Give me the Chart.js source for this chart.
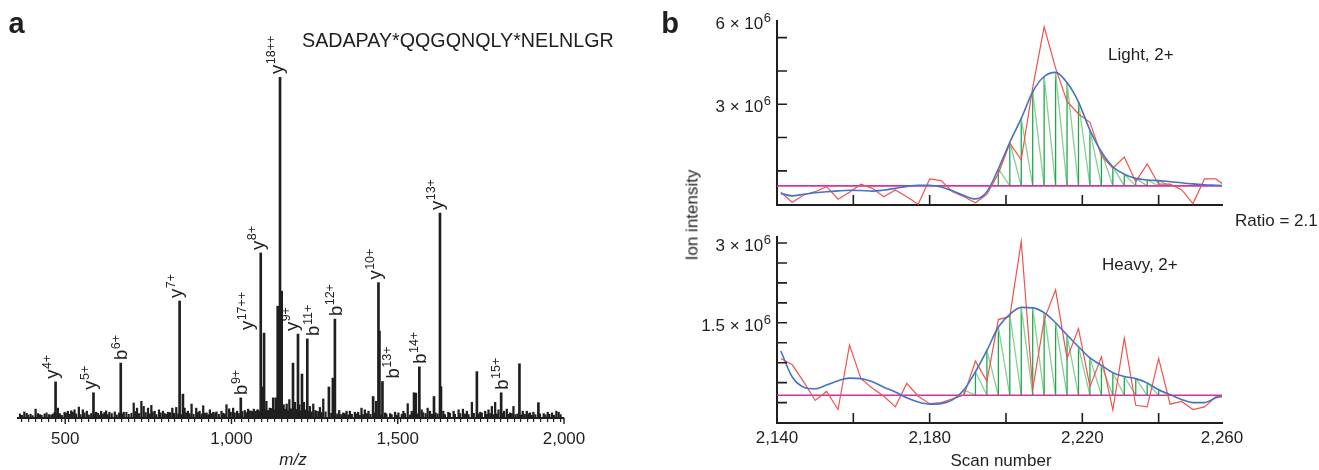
<!DOCTYPE html>
<html><head><meta charset="utf-8">
<script src="https://cdn.jsdelivr.net/npm/chart.js@4.4.1/dist/chart.umd.min.js"></script>
<style>
html,body{margin:0;padding:0;background:#fff;}
#wrap{position:relative;width:1319px;height:470px;overflow:hidden;font-family:"Liberation Sans",Arial,Helvetica,sans-serif;color:#1f1f1f;}
canvas{position:absolute;}
.t{position:absolute;white-space:nowrap;line-height:1;}
.c{transform:translate(-50%,-50%);}
.l{transform:translate(0,-50%);}
</style></head><body>
<div id="wrap">
<canvas id="ca" width="640" height="470" style="left:0;top:0"></canvas>
<canvas id="cb1" width="679" height="230" style="left:640px;top:0"></canvas>
<canvas id="cb2" width="679" height="240" style="left:640px;top:230px"></canvas>
<div class="t c" style="left:16.5px;top:22.5px;font-size:29px;font-weight:bold">a</div>
<div class="t c" style="left:670px;top:23px;font-size:29px;font-weight:bold">b</div>
<div class="t l" style="left:302px;top:40.5px;font-size:19.7px">SADAPAY*QQGQNQLY*NELNLGR</div>
<div class="t c" style="left:293px;top:459px;font-size:17px;font-style:italic">m/z</div>
<div class="t c" style="left:692px;top:215px;font-size:17px;transform:translate(-50%,-50%) rotate(-90deg)">Ion intensity</div>
<div class="t c" style="left:1001px;top:460px;font-size:17px">Scan number</div>
<div class="t l" style="left:1235px;top:220px;font-size:17px">Ratio = 2.1</div>
<div class="t l" style="left:1108px;top:53.5px;font-size:17px">Light, 2+</div>
<div class="t l" style="left:1102px;top:263.5px;font-size:17px">Heavy, 2+</div>
</div>
<script>
const FONT = '"Liberation Sans", Arial, Helvetica, sans-serif';
const INK = '#1f1f1f';

// ---------- Panel a: MS/MS spectrum (relative intensity, %) ----------
const peakMz  = [471, 585, 667, 844, 854, 1028, 1088, 1095, 1098, 1133, 1139, 1146, 1151, 1185, 1200, 1212, 1228, 1293, 1305, 1311, 1426, 1442, 1445, 1454, 1549, 1565, 1609, 1627, 1630, 1738, 1811, 1866, 1923];
const peakInt = [10.6, 7.4, 16.1, 34.3, 7.0, 5.9, 48.4, 9.1, 24.9, 5.9, 32.8, 100, 37.2, 16.1, 24.6, 12.9, 23.2, 9.1, 11.7, 29.0, 6.3, 39.7, 25.5, 10.7, 7.4, 15.0, 6.3, 60.1, 9.2, 13.6, 7.4, 15.9, 4.5];
const noiseMz  = [377, 411, 438, 451, 478, 498, 508, 518, 528, 541, 553, 565, 593, 608, 623, 633, 649, 676, 706, 716, 729, 736, 749, 759, 769, 782, 794, 809, 822, 834, 859, 869, 880, 894, 904, 915, 925, 935, 945, 955, 970, 985, 993, 1005, 1017, 1040, 1050, 1060, 1067, 1080, 1105, 1115, 1125, 1157, 1166, 1174, 1191, 1204, 1218, 1236, 1246, 1256, 1266, 1276, 1324, 1336, 1346, 1356, 1371, 1381, 1391, 1401, 1412, 1435, 1462, 1477, 1492, 1502, 1517, 1530, 1542, 1555, 1572, 1590, 1597, 1637, 1652, 1668, 1683, 1696, 1708, 1723, 1748, 1763, 1773, 1783, 1793, 1803, 1820, 1828, 1838, 1848, 1876, 1888, 1898, 1908, 1939, 1951, 1964, 1977, 1984];
const noiseInt = [1.8, 2.6, 1.2, 1.0, 2.9, 1.7, 2.0, 2.1, 2.4, 3.2, 2.4, 2.0, 1.7, 2.0, 2.1, 1.7, 1.8, 1.7, 4.4, 2.9, 4.9, 3.4, 2.9, 3.7, 2.0, 2.4, 2.0, 1.7, 2.9, 3.1, 2.9, 2.0, 4.1, 2.9, 2.0, 3.6, 1.5, 2.4, 1.7, 1.8, 2.0, 3.9, 2.7, 2.9, 2.0, 2.2, 2.6, 2.0, 2.6, 2.4, 4.9, 2.9, 5.9, 3.9, 4.1, 5.4, 4.6, 3.9, 4.6, 3.4, 4.1, 2.0, 3.1, 5.6, 2.2, 1.5, 2.0, 2.0, 1.7, 1.7, 2.9, 2.4, 2.0, 4.9, 1.5, 1.3, 1.7, 1.5, 2.0, 4.2, 2.0, 7.3, 2.4, 2.9, 2.0, 2.0, 1.7, 2.0, 2.4, 2.6, 2.0, 4.6, 1.7, 2.0, 2.4, 3.4, 4.6, 2.4, 2.0, 2.6, 1.5, 3.4, 2.0, 2.0, 1.5, 1.7, 1.3, 1.7, 1.5, 2.0, 1.7];
const grassMz  = [364, 370, 384, 389, 396, 402, 418, 424, 429, 444, 458, 463, 468, 476, 484, 490, 502, 513, 523, 533, 546, 558, 571, 578, 588, 599, 603, 614, 618, 628, 640, 655, 662, 671, 684, 691, 699, 711, 722, 742, 754, 763, 774, 787, 799, 804, 815, 827, 840, 849, 864, 874, 886, 899, 910, 920, 930, 940, 951, 962, 975, 980, 998, 1010, 1022, 1033, 1045, 1055, 1064, 1072, 1077, 1083, 1102, 1110, 1119, 1130, 1161, 1170, 1179, 1188, 1195, 1208, 1222, 1232, 1241, 1252, 1262, 1271, 1283, 1300, 1318, 1330, 1341, 1351, 1362, 1376, 1386, 1396, 1407, 1418, 1430, 1450, 1466, 1482, 1497, 1512, 1522, 1537, 1546, 1560, 1577, 1584, 1603, 1614, 1620, 1642, 1657, 1672, 1688, 1702, 1713, 1729, 1743, 1753, 1768, 1778, 1788, 1798, 1815, 1833, 1843, 1854, 1860, 1871, 1882, 1893, 1903, 1914, 1928, 1944, 1956, 1970, 1990];
const grassInt = [1.2, 0.8, 1.4, 0.9, 1.1, 0.7, 1.3, 1.0, 0.8, 1.5, 0.9, 1.2, 1.6, 1.0, 1.3, 0.8, 1.4, 1.1, 1.7, 1.2, 1.0, 1.5, 0.9, 1.3, 1.1, 1.4, 0.8, 1.2, 1.6, 1.0, 1.3, 0.9, 1.5, 1.2, 1.7, 1.1, 1.4, 1.9, 1.3, 1.6, 1.2, 1.8, 1.0, 1.5, 1.3, 1.1, 1.6, 1.4, 1.2, 1.0, 1.5, 1.3, 1.1, 1.6, 1.2, 1.4, 1.0, 1.3, 1.5, 1.1, 1.4, 1.2, 1.7, 1.5, 1.3, 1.9, 1.6, 2.1, 1.8, 2.0, 2.3, 1.9, 2.5, 2.2, 2.8, 2.4, 2.6, 2.2, 2.7, 2.3, 2.5, 2.1, 2.4, 2.0, 1.8, 2.2, 1.9, 1.6, 1.8, 1.4, 1.2, 1.0, 1.3, 0.9, 1.1, 1.2, 0.8, 1.0, 1.3, 1.1, 1.5, 0.9, 1.2, 1.0, 0.8, 1.1, 1.3, 0.9, 1.4, 1.2, 1.6, 1.3, 1.1, 1.5, 1.2, 1.0, 1.4, 1.1, 1.3, 1.2, 1.0, 1.4, 1.2, 1.5, 1.1, 1.3, 1.0, 1.2, 1.4, 1.1, 1.3, 1.0, 1.2, 0.9, 1.1, 1.3, 0.8, 1.0, 1.2, 0.9, 1.1, 0.8, 1.0];
// fragment ion annotations
const ionType = ['y', 'y', 'b', 'y', 'b', 'y', 'y', 'y', 'y', 'b', 'b', 'y', 'b', 'b', 'y', 'b'];
const ionSup  = ['4+', '5+', '6+', '7+', '9+', '8+', '17++', '18++', '9+', '11+', '12+', '10+', '13+', '14+', '13+', '15+'];
const ionMz   = [471, 585, 667, 844, 1028, 1088, 1098, 1146, 1200, 1228, 1311, 1442, 1454, 1565, 1627, 1811];
const mzMajorTicks = [500, 1000, 1500, 2000];
const mzMinorStep = 20;

// ---------- Panel b: extracted ion chromatograms (×10^6) ----------
const scans = [2141, 2144, 2147, 2150, 2153, 2156, 2159, 2162, 2165, 2168, 2171, 2174, 2177, 2180, 2183, 2186, 2189, 2192, 2195, 2198, 2201, 2204, 2207, 2210, 2213, 2216, 2219, 2222, 2225, 2228, 2231, 2234, 2237, 2240, 2243, 2246, 2249, 2252, 2255, 2258];
const lightRaw    = [-0.17, -0.53, -0.27, -0.15, 0.03, -0.42, -0.17, 0.12, -0.03, -0.33, -0.09, -0.33, -0.60, 0.31, 0.25, -0.15, -0.33, -0.55, -0.25, 0.50, 1.59, 1.00, 3.60, 5.79, 4.30, 3.10, 2.65, 2.35, 1.15, 0.70, 1.10, 0.21, 0.85, 0.12, 0.12, -0.08, -0.58, 0.31, 0.31, 0.00];
const lightSmooth = [-0.21, -0.30, -0.24, -0.19, -0.15, -0.12, -0.10, -0.11, -0.13, -0.09, -0.03, 0.04, 0.08, 0.08, 0.02, -0.12, -0.29, -0.41, -0.15, 0.67, 1.63, 2.49, 3.45, 4.00, 4.15, 3.78, 3.08, 2.07, 1.29, 0.75, 0.48, 0.33, 0.27, 0.25, 0.21, 0.17, 0.13, 0.10, 0.08, 0.06];
const lightBaseline = 0.06;
const lightPeakScans = [2198, 2240];
const heavyRaw    = [0.83, 0.71, 0.39, 0.04, 0.21, -0.13, 1.08, 0.45, 0.27, 0.12, -0.08, 0.36, 0.12, -0.02, 0.00, 0.07, 0.14, 0.78, 0.40, 1.56, 1.62, 3.03, 0.25, 1.56, 2.12, 0.83, 1.39, 0.30, 0.86, -0.14, 1.21, -0.05, -0.08, 0.83, -0.03, 0.02, -0.13, -0.08, 0.11, 0.10];
const heavySmooth = [0.97, 0.48, 0.29, 0.26, 0.33, 0.41, 0.46, 0.45, 0.39, 0.29, 0.20, 0.09, 0.01, -0.03, -0.02, 0.05, 0.24, 0.58, 0.98, 1.42, 1.66, 1.79, 1.78, 1.69, 1.50, 1.27, 1.05, 0.84, 0.70, 0.56, 0.49, 0.45, 0.37, 0.24, 0.15, 0.06, 0.00, 0.00, 0.09, 0.15];
const heavyBaseline = 0.137;
const heavyPeakScans = [2189, 2240];
const scanTickValues = [2140, 2180, 2220, 2256.6];
const scanTickLabels = ['2,140', '2,180', '2,220', '2,260'];
const scanInnerTicks = [2160, 2180, 2200, 2220, 2240];
const lightYTicks = [0.6, 1.8, 3.0, 4.2, 5.4];
const lightYLabels = [[3, '3'], [6, '6']];
const heavyYTicks = [0, 0.375, 0.75, 1.125, 1.5, 1.875, 2.25, 2.625, 3.0];
const heavyYLabels = [[1.5, '1.5'], [3, '3']];

// ---------- styles ----------
const labelNudge = {6: -13.5, 7: 0, 8: -3, 9: 5.5, 12: 10};
const RED = '#ef5350', BLUE = '#4672c4', MAG = '#d2359f', GDARK = '#1fa84a', GLIGHT = '#86d093';

const ionLabels = {
  id: 'ionLabels',
  afterDatasetsDraw(chart) {
    const {ctx, scales: {x, y}} = chart;
    ionMz.forEach((m, i) => {
      const k = peakMz.indexOf(m);
      const px = x.getPixelForValue(m) + (labelNudge[i] || 0);
      const top = y.getPixelForValue(peakInt[k]);
      const fs = 18.5, ss = 12.5;
      const bx = px + (ionType[i] === 'b' ? 0.36 : 0.155) * fs;
      ctx.save();
      ctx.fillStyle = INK;
      ctx.translate(bx, top - 3);
      ctx.rotate(-Math.PI / 2);
      ctx.textAlign = 'left'; ctx.textBaseline = 'alphabetic';
      ctx.font = fs + 'px ' + FONT;
      ctx.fillText(ionType[i], 0, 0);
      const w = ctx.measureText(ionType[i]).width;
      ctx.font = ss + 'px ' + FONT;
      ctx.fillText(ionSup[i], w + 0.5, -fs * 0.42);
      ctx.restore();
    });
  }
};
const majorTickExt = {
  id: 'majorTickExt',
  afterDraw(chart) {
    const {ctx, chartArea: a, scales: {x}} = chart;
    ctx.save(); ctx.strokeStyle = INK; ctx.lineWidth = 1.4;
    ctx.beginPath();
    mzMajorTicks.forEach(v => { const px = x.getPixelForValue(v); ctx.moveTo(px, a.bottom); ctx.lineTo(px, a.bottom + 6); });
    ctx.stroke(); ctx.restore();
  }
};

const mzTicks = [];
for (let v = 360; v <= 2000; v += mzMinorStep) mzTicks.push(v);

new Chart(document.getElementById('ca'), {
  type: 'bar',
  data: { datasets: [
    { data: peakMz.map((m, i) => ({x: m, y: peakInt[i]})), backgroundColor: INK, barThickness: 2, grouped: false },
    { data: noiseMz.map((m, i) => ({x: m, y: noiseInt[i]})), backgroundColor: INK, barThickness: 1.6, grouped: false },
    { data: grassMz.map((m, i) => ({x: m, y: grassInt[i]})), backgroundColor: INK, barThickness: 1.4, grouped: false }
  ]},
  options: {
    responsive: false, animation: false, events: [],
    layout: { padding: { left: 18, right: 76, top: 77, bottom: 0 } },
    plugins: { legend: { display: false }, tooltip: { enabled: false } },
    scales: {
      x: {
        type: 'linear', min: 358, max: 2000, offset: false,
        afterBuildTicks: s => { s.ticks = mzTicks.map(v => ({value: v})); },
        afterFit: s => { s.height = 52; },
        grid: { display: true, drawOnChartArea: false, drawTicks: true, tickLength: 4, color: INK, lineWidth: 1.2 },
        border: { display: true, color: INK, width: 2 },
        ticks: { autoSkip: false, maxRotation: 0, minRotation: 0, padding: 7, color: INK, font: { family: FONT, size: 17 },
          callback: v => mzMajorTicks.includes(v) ? v.toLocaleString('en-US') : '' }
      },
      y: { display: false, min: 0, max: 100 }
    }
  },
  plugins: [ionLabels, majorTickExt]
});

// ---------- chromatogram charts ----------
const innerTicks = {
  id: 'innerTicks',
  afterDraw(chart, args, o) {
    const {ctx, chartArea: a, scales: {x, y}} = chart;
    ctx.save(); ctx.strokeStyle = INK; ctx.lineWidth = 1.6;
    ctx.beginPath();
    o.x.forEach(v => { const px = x.getPixelForValue(v); ctx.moveTo(px, a.bottom); ctx.lineTo(px, a.bottom - 10); });
    o.y.forEach(v => { const py = y.getPixelForValue(v); ctx.moveTo(a.left, py); ctx.lineTo(a.left + 10, py); });
    ctx.stroke();
    ctx.fillStyle = INK;
    const right = a.left - 6;
    o.labels.forEach(([v, mant]) => {
      const py = Math.max(y.getPixelForValue(v), a.top) + 3.5;
      ctx.textAlign = 'right'; ctx.textBaseline = 'middle';
      ctx.font = '13px ' + FONT;
      const sw = ctx.measureText('6').width;
      ctx.fillText('6', right, py - 6);
      ctx.font = '17px ' + FONT;
      ctx.fillText(mant + ' \u00d7 10', right - sw - 0.5, py);
    });
    ctx.restore();
  }
};

function hatch(smooth, base, range) {
  const pts = [];
  scans.forEach((s, i) => {
    if (s >= range[0] && s <= range[1]) {
      pts.push({x: s, y: base}, {x: s, y: smooth[i]});
    }
  });
  const last = scans.findIndex(s => s > range[1]);
  if (last >= 0) pts.push({x: scans[last], y: base});
  return pts;
}

function chromChart(id, raw, smooth, base, range, yMin, yMax, yTicks, yLabels, padTop, xHeight, showLabels) {
  return new Chart(document.getElementById(id), {
    type: 'line',
    data: { datasets: [
      { data: scans.map((s, i) => ({x: s, y: smooth[i]})), borderColor: BLUE, borderWidth: 1.6, pointRadius: 0, tension: 0.4, cubicInterpolationMode: 'monotone' },
      { data: scans.map((s, i) => ({x: s, y: raw[i]})), borderColor: RED, borderWidth: 1.2, pointRadius: 0, tension: 0 },
      { data: [{x: 2140, y: base}, {x: 2258, y: base}], borderColor: MAG, borderWidth: 1.6, pointRadius: 0 },
      { data: hatch(smooth, base, range), borderColor: GDARK, borderWidth: 1.3, pointRadius: 0, tension: 0,
        segment: { borderColor: c => c.p0.parsed.x === c.p1.parsed.x ? GDARK : GLIGHT } }
    ]},
    options: {
      responsive: false, animation: false, events: [],
      layout: { padding: { left: 0, right: 97, top: padTop, bottom: 0 } },
      plugins: { legend: { display: false }, tooltip: { enabled: false },
        innerTicks: { x: scanInnerTicks, y: yTicks, labels: yLabels } },
      scales: {
        x: {
          type: 'linear', min: 2140, max: 2256.6,
          afterBuildTicks: s => { s.ticks = scanTickValues.map(v => ({value: v})); },
          afterFit: s => { s.height = xHeight; },
          grid: { display: false, drawTicks: false },
          border: { display: true, color: INK, width: 2 },
          ticks: { display: showLabels, autoSkip: false, maxRotation: 0, padding: 5, color: INK, font: { family: FONT, size: 17 },
            callback: (v, i) => scanTickLabels[i] }
        },
        y: {
          type: 'linear', min: yMin, max: yMax,
          afterFit: s => { s.width = 137; },
          grid: { display: false, drawTicks: false },
          border: { display: true, color: INK, width: 2 },
          ticks: { display: false }
        }
      }
    },
    plugins: [innerTicks]
  });
}

chromChart('cb1', lightRaw, lightSmooth, lightBaseline, lightPeakScans, -0.63, 6.0, lightYTicks, lightYLabels, 21, 25, false);
chromChart('cb2', heavyRaw, heavySmooth, heavyBaseline, heavyPeakScans, -0.384, 3.113, heavyYTicks, heavyYLabels, 7, 47, true);
</script>
</body></html>
